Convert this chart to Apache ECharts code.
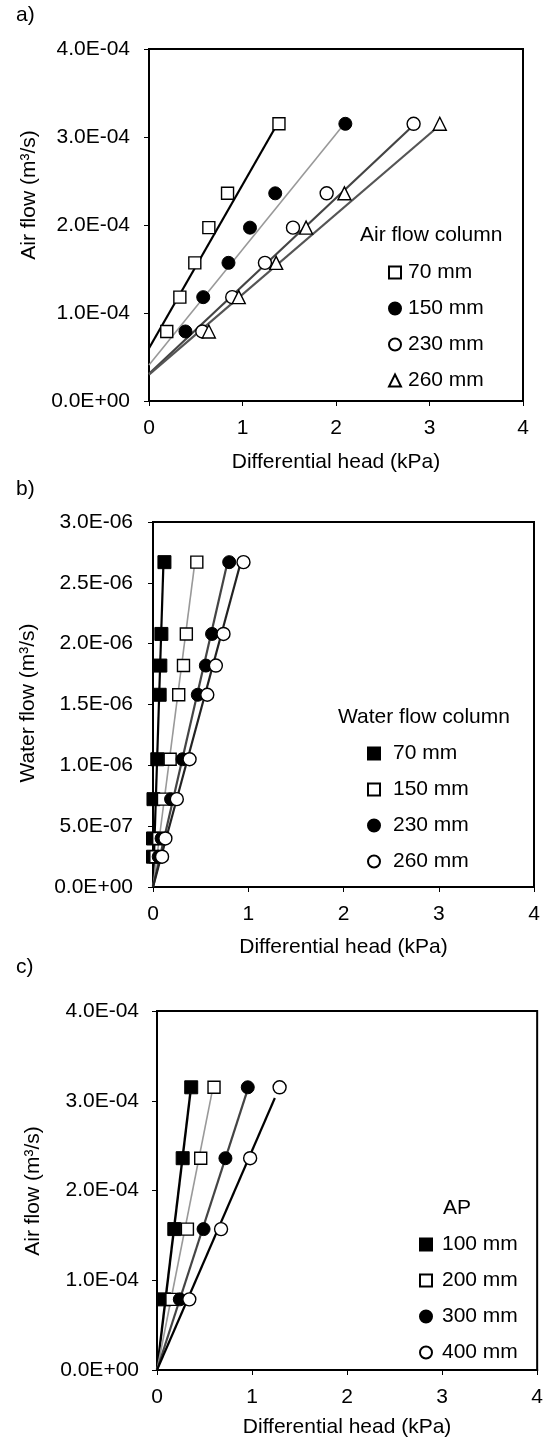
<!DOCTYPE html>
<html>
<head>
<meta charset="utf-8">
<script src="https://cdn.jsdelivr.net/npm/echarts@6/dist/echarts.min.js"></script>
<style>
    body { margin: 0; background: #fff; }
    #main { width: 546px; height: 1439px; }
</style>
</head>
<body>
<div id="main"></div>
<script>
// a) air flow vs differential head, per air flow column
var flowA = [7.9e-5, 1.18e-4, 1.57e-4, 1.97e-4, 2.36e-4, 3.15e-4];
var headA70 = [0.19, 0.33, 0.49, 0.64, 0.84, 1.39];
var headA150 = [0.39, 0.58, 0.85, 1.08, 1.35, 2.10];
var headA230 = [0.57, 0.89, 1.24, 1.54, 1.90, 2.83];
var headA260 = [0.64, 0.96, 1.36, 1.68, 2.09, 3.11];
// fitted lines as [head, flow] end points
var fitA70 = [[0, 6.0e-5], [1.36, 3.125e-4]];
var fitA150 = [[0, 4.1e-5], [2.07, 3.125e-4]];
var fitA230 = [[0, 3.1e-5], [2.82, 3.125e-4]];
var fitA260 = [[0, 3.0e-5], [3.10, 3.125e-4]];

// b) water flow vs differential head, per water flow column
var flowB = [2.49e-7, 3.99e-7, 7.22e-7, 1.05e-6, 1.58e-6, 1.82e-6, 2.08e-6, 2.67e-6];
var headB70 = [0.0, 0.0, 0.005, 0.045, 0.07, 0.077, 0.088, 0.12];
var headB150 = [0.03, 0.06, 0.11, 0.18, 0.27, 0.32, 0.35, 0.46];
var headB230 = [0.06, 0.09, 0.19, 0.31, 0.47, 0.555, 0.62, 0.80];
var headB260 = [0.095, 0.13, 0.25, 0.384, 0.57, 0.66, 0.74, 0.95];
var fitB70 = [[0, 0], [0.11, 2.67e-6]];
var fitB150 = [[0, 0], [0.44, 2.67e-6]];
var fitB230 = [[0, 0], [0.775, 2.645e-6]];
var fitB260 = [[0, 0], [0.913, 2.645e-6]];

// c) air flow vs differential head, per AP
var flowC = [7.87e-5, 1.57e-4, 2.36e-4, 3.15e-4];
var headC100 = [0.077, 0.182, 0.27, 0.36];
var headC200 = [0.157, 0.32, 0.46, 0.60];
var headC300 = [0.24, 0.49, 0.72, 0.955];
var headC400 = [0.34, 0.674, 0.98, 1.29];
var fitC100 = [[0, 0], [0.35, 3.08e-4]];
var fitC200 = [[0, 0], [0.576, 3.08e-4]];
var fitC300 = [[0, 0], [0.94, 3.08e-4]];
var fitC400 = [[0, 0], [1.24, 3.03e-4]];

var xTicks = ['0', '1', '2', '3', '4'];

var FONT = "'Liberation Sans', Arial, Helvetica, sans-serif";

function pts(xs, ys) {
    return xs.map(function (x, i) { return [x, ys[i]]; });
}

function sci(v) {
    var s = Number(v).toExponential(1).toUpperCase().split('E');
    var e = parseInt(s[1], 10);
    var sign = e < 0 ? '-' : '+';
    e = Math.abs(e);
    return s[0] + 'E' + sign + (e < 10 ? '0' + e : e);
}

// marker styles
var openSquare = { symbol: 'rect', symbolSize: 12, itemStyle: { color: '#fff', borderColor: '#000', borderWidth: 1.4, opacity: 1 } };
var fillSquare = { symbol: 'rect', symbolSize: 13, itemStyle: { color: '#000', borderColor: '#000', borderWidth: 1, opacity: 1 } };
var openCircle = { symbol: 'circle', symbolSize: 13, itemStyle: { color: '#fff', borderColor: '#000', borderWidth: 1.4, opacity: 1 } };
var fillCircle = { symbol: 'circle', symbolSize: 13, itemStyle: { color: '#000', borderColor: '#000', borderWidth: 1, opacity: 1 } };
var openTri = { symbol: 'triangle', symbolSize: 13, itemStyle: { color: '#fff', borderColor: '#000', borderWidth: 1.4, opacity: 1 } };

function scatter(name, idx, data, mk) {
    return {
        name: name, type: 'scatter', xAxisIndex: idx, yAxisIndex: idx, z: 3,
        symbol: mk.symbol, symbolSize: mk.symbolSize, itemStyle: mk.itemStyle,
        data: data
    };
}

function fit(idx, data, color, width) {
    return {
        name: 'fit', type: 'line', xAxisIndex: idx, yAxisIndex: idx, z: 2,
        showSymbol: false, symbol: 'none', silent: true,
        lineStyle: { color: color, width: width },
        data: data
    };
}

var grids = [
    { left: 149, top: 49, width: 374, height: 352 },
    { left: 153, top: 522, width: 381, height: 365 },
    { left: 157, top: 1011, width: 381, height: 361 }
];
var yMax = [4e-4, 3e-6, 4e-4];
var yStep = [1e-4, 5e-7, 1e-4];
var yMargin = [19, 20, 18];
var xNameGap = [51, 50, 47];

var myChart = echarts.init(document.getElementById('main'));

var option = {
    animation: false,
    backgroundColor: '#fff',
    textStyle: { fontFamily: FONT },
    grid: grids.map(function (g) {
        return {
            left: g.left, top: g.top, width: g.width, height: g.height,
            show: true, borderColor: '#000', borderWidth: 2, backgroundColor: 'transparent'
        };
    }),
    xAxis: grids.map(function (g, i) {
        return {
            gridIndex: i, type: 'value', min: 0, max: 4, interval: 1,
            name: 'Differential head (kPa)', nameLocation: 'middle', nameGap: xNameGap[i],
            nameTextStyle: { fontSize: 21, color: '#000', fontFamily: FONT },
            axisLine: { onZero: false, lineStyle: { color: '#000', width: 2 } },
            axisTick: { show: true, inside: false, length: 5, lineStyle: { color: '#000', width: 1 } },
            axisLabel: {
                fontSize: 21, color: '#000', margin: 17, fontFamily: FONT,
                formatter: function (v) { return xTicks[Math.round(v)]; }
            },
            splitLine: { show: false }
        };
    }),
    yAxis: grids.map(function (g, i) {
        return {
            gridIndex: i, type: 'value', min: 0, max: yMax[i], interval: yStep[i],
            axisLine: { show: true, onZero: false, lineStyle: { color: '#000', width: 2 } },
            axisTick: { show: true, inside: false, length: 5, lineStyle: { color: '#000', width: 1 } },
            axisLabel: { fontSize: 21, color: '#000', margin: yMargin[i], fontFamily: FONT, formatter: sci },
            splitLine: { show: false }
        };
    }),
    legend: [
        {
            orient: 'vertical', left: 383, top: 257, itemWidth: 12, itemHeight: 12, itemGap: 15,
            selectedMode: false,
            data: ['a|70 mm', 'a|150 mm', 'a|230 mm', 'a|260 mm'],
            formatter: function (n) { return n.split('|')[1]; },
            textStyle: { fontSize: 21, color: '#000', fontFamily: FONT, padding: [0, 0, 0, 2] }
        },
        {
            orient: 'vertical', left: 362, top: 738, itemWidth: 12, itemHeight: 12, itemGap: 15,
            selectedMode: false,
            data: ['b|70 mm', 'b|150 mm', 'b|230 mm', 'b|260 mm'],
            formatter: function (n) { return n.split('|')[1]; },
            textStyle: { fontSize: 21, color: '#000', fontFamily: FONT, padding: [0, 0, 0, 8] }
        },
        {
            orient: 'vertical', left: 414, top: 1229, itemWidth: 12, itemHeight: 12, itemGap: 15,
            selectedMode: false,
            data: ['c|100 mm', 'c|200 mm', 'c|300 mm', 'c|400 mm'],
            formatter: function (n) { return n.split('|')[1]; },
            textStyle: { fontSize: 21, color: '#000', fontFamily: FONT, padding: [0, 0, 0, 5] }
        }
    ],
    graphic: [
        { type: 'text', left: 16, top: 5, style: { text: 'a)', font: '21px ' + FONT, fill: '#000' } },
        { type: 'text', left: 16, top: 479, style: { text: 'b)', font: '21px ' + FONT, fill: '#000' } },
        { type: 'text', left: 16, top: 957, style: { text: 'c)', font: '21px ' + FONT, fill: '#000' } },
        { type: 'text', left: 360, top: 225, style: { text: 'Air flow column', font: '21px ' + FONT, fill: '#000' } },
        { type: 'text', left: 338, top: 707, style: { text: 'Water flow column', font: '21px ' + FONT, fill: '#000' } },
        { type: 'text', left: 443, top: 1198, style: { text: 'AP', font: '21px ' + FONT, fill: '#000' } },
        {
            type: 'text', x: 29, y: 195, rotation: Math.PI / 2,
            style: { text: 'Air flow (m\u00b3/s)', font: '21px ' + FONT, fill: '#000', align: 'center', verticalAlign: 'middle', textAlign: 'center', textVerticalAlign: 'middle' }
        },
        {
            type: 'text', x: 28, y: 703, rotation: Math.PI / 2,
            style: { text: 'Water flow (m\u00b3/s)', font: '21px ' + FONT, fill: '#000', align: 'center', verticalAlign: 'middle', textAlign: 'center', textVerticalAlign: 'middle' }
        },
        {
            type: 'text', x: 33, y: 1191, rotation: Math.PI / 2,
            style: { text: 'Air flow (m\u00b3/s)', font: '21px ' + FONT, fill: '#000', align: 'center', verticalAlign: 'middle', textAlign: 'center', textVerticalAlign: 'middle' }
        }
    ],
    series: [
        fit(0, fitA70, '#000', 2.2),
        fit(0, fitA150, '#999', 1.6),
        fit(0, fitA230, '#444', 2.2),
        fit(0, fitA260, '#555', 2.2),
        scatter('a|70 mm', 0, pts(headA70, flowA), openSquare),
        scatter('a|150 mm', 0, pts(headA150, flowA), fillCircle),
        scatter('a|230 mm', 0, pts(headA230, flowA), openCircle),
        scatter('a|260 mm', 0, pts(headA260, flowA), openTri),

        fit(1, fitB70, '#000', 2.2),
        fit(1, fitB150, '#999', 1.6),
        fit(1, fitB230, '#444', 2.2),
        fit(1, fitB260, '#222', 2.2),
        scatter('b|70 mm', 1, pts(headB70, flowB), fillSquare),
        scatter('b|150 mm', 1, pts(headB150, flowB), openSquare),
        scatter('b|230 mm', 1, pts(headB230, flowB), fillCircle),
        scatter('b|260 mm', 1, pts(headB260, flowB), openCircle),

        fit(2, fitC100, '#000', 2.4),
        fit(2, fitC200, '#999', 1.6),
        fit(2, fitC300, '#444', 2.2),
        fit(2, fitC400, '#000', 2.2),
        scatter('c|100 mm', 2, pts(headC100, flowC), fillSquare),
        scatter('c|200 mm', 2, pts(headC200, flowC), openSquare),
        scatter('c|300 mm', 2, pts(headC300, flowC), fillCircle),
        scatter('c|400 mm', 2, pts(headC400, flowC), openCircle)
    ]
};

myChart.setOption(option);
</script>
</body>
</html>
